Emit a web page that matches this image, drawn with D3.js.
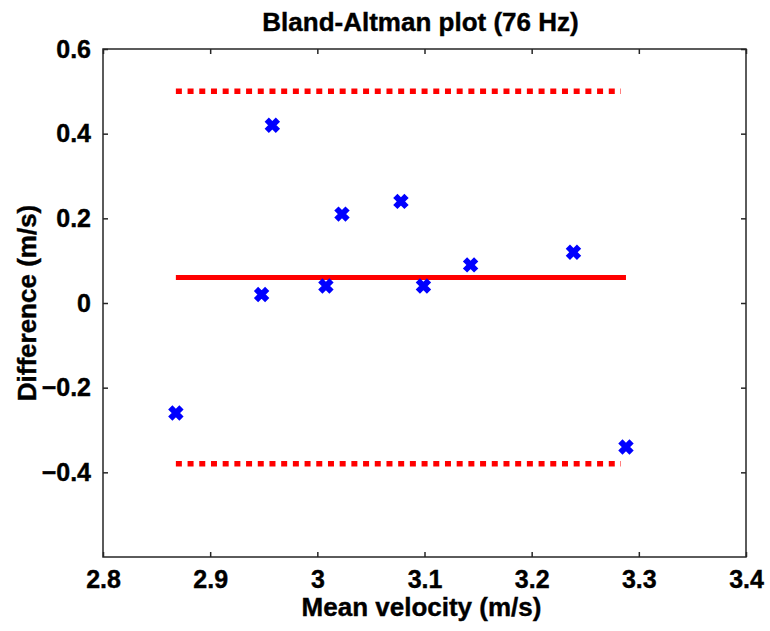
<!DOCTYPE html>
<html>
<head>
<meta charset="utf-8">
<script src="https://cdn.jsdelivr.net/npm/d3@7"></script>
<style>
  body { margin: 0; background: #fff; }
  text { font-family: "Liberation Sans", Arial, sans-serif; font-weight: bold; fill: #000; stroke: #000; stroke-width: 0.4px; }
</style>
</head>
<body>
<svg width="770" height="631"></svg>
<script>
// data
var meanVelocity = [2.868, 2.948, 2.958, 3.008, 3.023, 3.078, 3.099, 3.143, 3.239, 3.288];
var difference   = [-0.26, 0.02, 0.42, 0.04, 0.21, 0.24, 0.04, 0.09, 0.12, -0.34];
var meanDiff = 0.06;
var limits = [0.50, -0.38];
var xTicks = [2.8, 2.9, 3.0, 3.1, 3.2, 3.3, 3.4];
var yTicks = [0.6, 0.4, 0.2, 0, -0.2, -0.4];

var glue = {left: 103, right: 24, top: 49, bottom: 74};
var width = 770 - glue.left - glue.right;
var height = 631 - glue.top - glue.bottom;

var svg = d3.select('svg');
var g = svg.append('g')
  .attr('transform', 'translate(' + glue.left + ',' + glue.top + ')');

var x = d3.scaleLinear().domain([2.8, 3.4]).range([0, width]);
var y = d3.scaleLinear().domain([-0.6, 0.6]).range([height, 0]);

var fmt = function(d) { return d === 0 ? '0' : d3.format('')(+d.toFixed(1)); };

// axes, ticks pointing inward, mirrored on top and right
function styleAxis(sel) {
  sel.select('.domain').remove();
  sel.selectAll('line').attr('stroke', '#262626').attr('stroke-width', 1.5);
  sel.selectAll('text').style('font-size', '25px');
}
g.append('g')
  .attr('transform', 'translate(0,' + height + ')')
  .call(d3.axisBottom(x).tickValues(xTicks).tickSizeInner(-5).tickSizeOuter(0).tickPadding(13).tickFormat(fmt))
  .call(styleAxis)
  .selectAll('text').attr('dy', '0.71em');
g.append('g')
  .call(d3.axisTop(x).tickValues(xTicks).tickSizeInner(-5).tickSizeOuter(0).tickFormat(''))
  .call(styleAxis);
g.append('g')
  .call(d3.axisLeft(y).tickValues(yTicks).tickSizeInner(-5).tickSizeOuter(0).tickPadding(12).tickFormat(fmt))
  .call(styleAxis);
g.append('g')
  .attr('transform', 'translate(' + width + ',0)')
  .call(d3.axisRight(y).tickValues(yTicks).tickSizeInner(-5).tickSizeOuter(0).tickFormat(''))
  .call(styleAxis);

g.append('rect')
  .attr('width', width)
  .attr('height', height)
  .attr('fill', 'none')
  .attr('stroke', '#262626')
  .attr('stroke-width', 1.5);

// mean and limits of agreement
var x0 = d3.min(meanVelocity), x1 = d3.max(meanVelocity);
g.append('line')
  .attr('x1', x(x0)).attr('x2', x(x1))
  .attr('y1', y(meanDiff)).attr('y2', y(meanDiff))
  .attr('stroke', '#ff0000')
  .attr('stroke-width', 5);
g.selectAll('.limit')
  .data(limits)
  .enter()
  .append('line')
  .attr('class', 'limit')
  .attr('x1', x(x0)).attr('x2', x(x1) - 5)
  .attr('y1', d => y(d)).attr('y2', d => y(d))
  .attr('stroke', '#ff0000')
  .attr('stroke-width', 5.5)
  .attr('stroke-dasharray', '6 5.7');

// x markers
var r = 5.6;
g.selectAll('.pt')
  .data(meanVelocity)
  .enter()
  .append('path')
  .attr('class', 'pt')
  .attr('transform', (d, i) => 'translate(' + x(d) + ',' + y(difference[i]) + ')')
  .attr('d', 'M' + -r + ',' + -r + 'L' + r + ',' + r + 'M' + -r + ',' + r + 'L' + r + ',' + -r)
  .attr('stroke', '#0000ff')
  .attr('stroke-width', 6)
  .attr('fill', 'none');

// labels
svg.append('text')
  .attr('x', glue.left + width / 2 - 4)
  .attr('y', 31)
  .attr('text-anchor', 'middle')
  .style('font-size', '26px')
  .text('Bland-Altman plot (76 Hz)');
svg.append('text')
  .attr('x', glue.left + width / 2 - 3)
  .attr('y', 616)
  .attr('text-anchor', 'middle')
  .style('font-size', '26px')
  .text('Mean velocity (m/s)');
svg.append('text')
  .attr('transform', 'translate(36,' + (glue.top + height / 2) + ') rotate(-90)')
  .attr('text-anchor', 'middle')
  .style('font-size', '26px')
  .text('Difference (m/s)');
</script>
</body>
</html>
